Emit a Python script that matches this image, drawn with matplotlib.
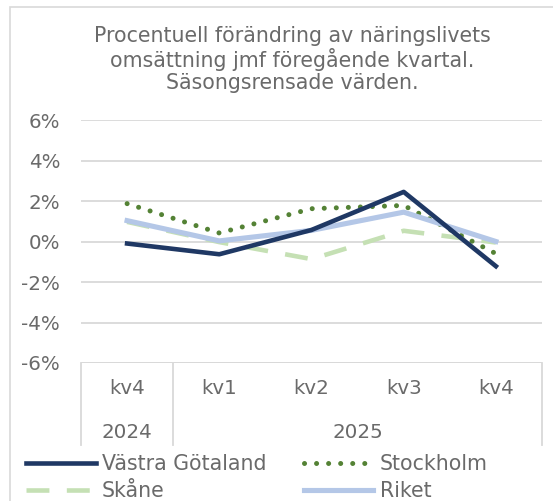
import matplotlib
matplotlib.use("Agg")
import matplotlib.pyplot as plt
from matplotlib.patches import Rectangle
import matplotlib.transforms as mtransforms

quarters = ["kv4", "kv1", "kv2", "kv3", "kv4"]
years = ["2024", "2025"]
year_spans = [(0, 0), (1, 4)]
vastra_gotaland = [-0.1, -0.63, 0.57, 2.45, -1.22]
stockholm = [1.87, 0.42, 1.62, 1.78, -0.6]
skane = [0.97, -0.03, -0.87, 0.53, -0.05]
riket = [1.03, 0.03, 0.55, 1.45, 0.0]
yticks = [-6, -4, -2, 0, 2, 4, 6]
title = "Procentuell förändring av näringslivets\nomsättning jmf föregående kvartal.\nSäsongsrensade värden."

TXT = "#6a6a6a"
GRID = "#d9d9d9"
FS = 14.3

W, H = 553, 501
plt.rcParams["font.family"] = ["DejaVu Sans"]
fig = plt.figure(figsize=(W / 100, H / 100), dpi=100)

# outer border
fig.add_artist(Rectangle((9.5 / W, -0.05), 1.1, 1 - 7 / H + 0.05, transform=fig.transFigure,
                         fill=False, edgecolor=GRID, lw=1.2))

left, right, top, bottom = 81, 542, 120, 363
ax = fig.add_axes([left / W, 1 - bottom / H, (right - left) / W, (bottom - top) / H])

x = list(range(len(quarters)))
ax.plot(x, vastra_gotaland, color="#1f3864", lw=3.3, label="Västra Götaland", zorder=5)
ax.plot(x, stockholm, color="#548235", lw=3.6, linestyle=(0, (0.01, 2.4)), dash_capstyle="round",
        label="Stockholm", zorder=4)
ax.plot(x, skane, color="#c5e0b4", lw=3.3, linestyle=(0, (5, 3.8)), label="Skåne", zorder=3)
ax.plot(x, riket, color="#b4c7e7", lw=3.7, label="Riket", zorder=4)

ax.set_xlim(-0.5, len(quarters) - 0.5)
ax.set_ylim(-6, 6)
ax.set_yticks(yticks)
ax.set_yticklabels([f"{v}%" for v in yticks], color=TXT, fontsize=FS)
ax.tick_params(axis="y", length=0, pad=15)
ax.tick_params(axis="x", length=0, labelbottom=False)
ax.grid(axis="y", color=GRID, lw=1.3)
ax.set_axisbelow(True)
for s in ax.spines.values():
    s.set_visible(False)
ax.axhline(-6, color=GRID, lw=1.3, zorder=1)

trans = mtransforms.blended_transform_factory(ax.transData, ax.transAxes)
depth = (445 - bottom) / (bottom - top)
kv_y = -(388 - bottom) / (bottom - top)
yr_y = -(432 - bottom) / (bottom - top)
for i, q in enumerate(quarters):
    ax.text(i, kv_y, q, transform=trans, ha="center", va="center", color=TXT, fontsize=FS)
for yr, (a, b) in zip(years, year_spans):
    ax.text((a + b) / 2, yr_y, yr, transform=trans, ha="center", va="center", color=TXT, fontsize=FS)
seps = [-0.5, 0.5, len(quarters) - 0.5]
for sx in seps:
    ax.plot([sx, sx], [0, -depth], transform=trans, color=GRID, lw=1.3, clip_on=False)

fig.text(292 / W, 1 - 59.5 / H, title, ha="center", va="center", color=TXT, fontsize=14.8,
         linespacing=1.12)

handles, labels = ax.get_legend_handles_labels()
order = [0, 2, 1, 3]
leg = fig.legend([handles[i] for i in order], [labels[i] for i in order], ncol=2,
                 loc="upper left", bbox_to_anchor=(26 / W, 1 - 454 / H), frameon=False,
                 fontsize=14.8, handlelength=3.4, handletextpad=0.3, columnspacing=1.8,
                 labelspacing=0.35, borderaxespad=0, borderpad=0)
for t in leg.get_texts():
    t.set_color(TXT)

fig.savefig("out.png", dpi=100)
